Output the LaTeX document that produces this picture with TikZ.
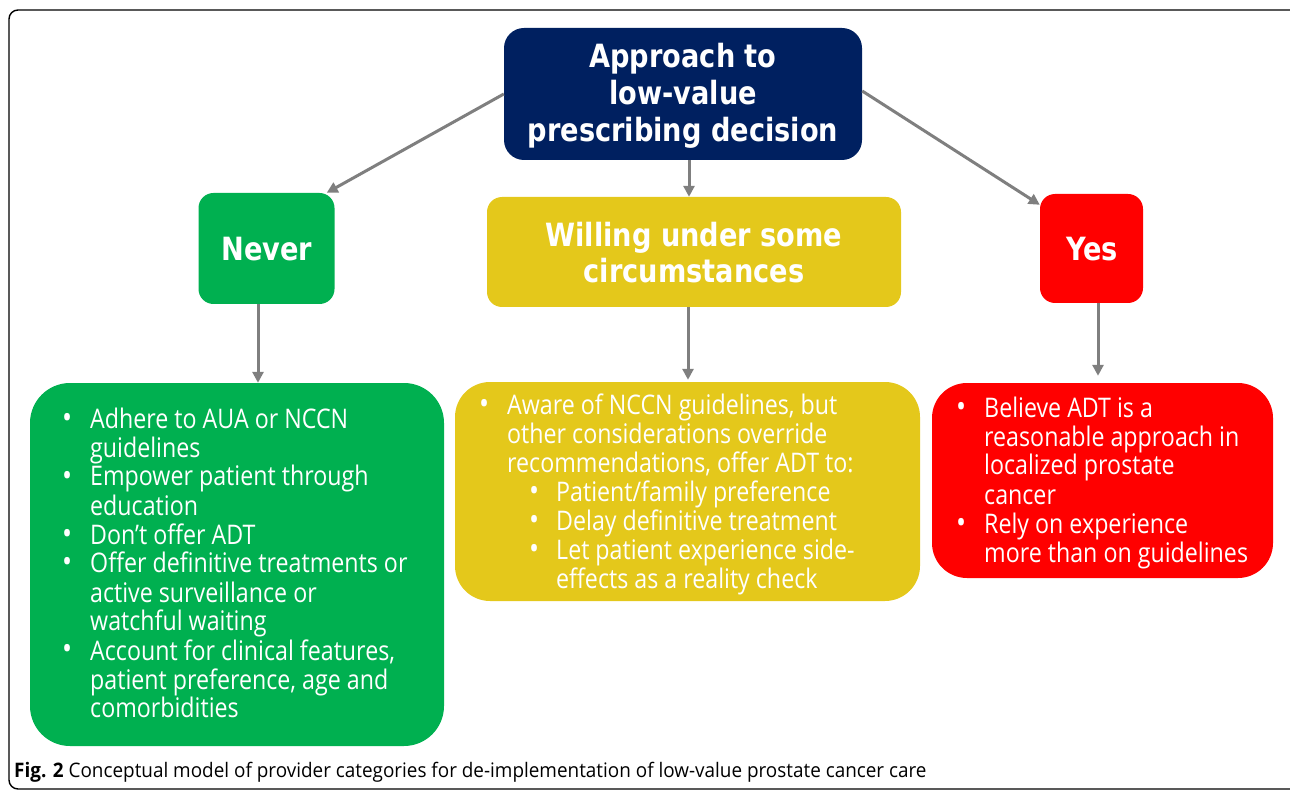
\documentclass[tikz,border=0pt]{standalone}
\usepackage{fontspec}
\setmainfont{Open Sans}
\newfontfamily\bodyfont{Open Sans}[FakeStretch=0.86]
\newfontfamily\titlefont{DejaVu Sans}[FakeStretch=0.85]
\newfontfamily\capfont{Open Sans}[FakeStretch=0.945]
\usetikzlibrary{arrows.meta,calc}
\definecolor{navy}{HTML}{002060}
\definecolor{grn}{HTML}{00B050}
\definecolor{ylw}{HTML}{E4C81B}
\definecolor{rd}{HTML}{FF0000}
\definecolor{arr}{HTML}{7F7F7F}
\newcommand{\bul}{\scalebox{1.15}{\textbullet}}
\newcommand{\bl}[1]{\hbox{\makebox[28pt][l]{\bul}#1}}
\newcommand{\cl}[1]{\hbox{\hspace{28pt}#1}}
\newcommand{\sbl}[1]{\hbox{\hspace{50pt}\makebox[27pt][l]{\bul}#1}}
\newcommand{\scl}[1]{\hbox{\hspace{77pt}#1}}
\newcommand{\lines}[1]{\vtop{\baselineskip=29pt\lineskiplimit=-20pt #1}}
\tikzset{
  headbox/.style={draw=none, fill=navy, rounded corners=20pt},
  catbox/.style={draw=none, rounded corners=15pt},
  listbox/.style={draw=none, rounded corners=#1},
  headtext/.style={anchor=base, text=white, align=center, inner sep=0pt,
     font=\titlefont\bfseries\fontsize{32}{37}\selectfont},
  listtext/.style={anchor=base west, inner sep=0pt, text=white, font=\bodyfont\fontsize{27}{29}\selectfont},
  conn/.style={draw=arr, line width=3pt, -{Triangle[length=11pt,width=11pt]}},
}
\begin{document}
\begin{tikzpicture}[x=1pt,y=-1pt]
\useasboundingbox (0,0) rectangle (1290,791);
\begin{scope}
\clip (0,0) rectangle (1290,791);
\draw[line width=1.4pt, rounded corners=9pt] (9,10) rectangle (1310,789);
\end{scope}
% top
\node[headbox, minimum width=358pt, minimum height=132pt] (top) at (683,94) {};
\node[headtext] (toptxt) at (683,142) {Approach to\\low-value\\prescribing decision};
% categories
\node[catbox, fill=grn, minimum width=136pt, minimum height=111pt] (never) at (266.5,248.5) {};
\node[headtext] (nevertxt) at (267,261) {Never};
\node[catbox, fill=ylw, minimum width=414pt, minimum height=110pt] (will) at (694,252) {};
\node[headtext, font=\titlefont\bfseries\fontsize{32}{36}\selectfont] (willtxt) at (694,283) {Willing under some\\circumstances};
\node[catbox, fill=rd, minimum width=103pt, minimum height=109pt] (yes) at (1091.5,248.5) {};
\node[headtext] (yestxt) at (1092,261) {Yes};
% lists
\node[listbox=40pt, fill=grn, minimum width=414pt, minimum height=363pt] (glist) at (237,564.5) {};
\node[listbox=35pt, fill=ylw, minimum width=465pt, minimum height=219pt] (ylist) at (687.5,491.5) {};
\node[listbox=35pt, fill=rd, minimum width=341pt, minimum height=195pt] (rlist) at (1102.5,480.5) {};
\node[listtext] (gtxt) at (62,428) {\lines{%
\bl{Adhere to AUA or NCCN}\cl{guidelines}%
\bl{Empower patient through}\cl{education}%
\bl{Don’t offer ADT}%
\bl{Offer definitive treatments or}\cl{active surveillance or}\cl{watchful waiting}%
\bl{Account for clinical features,}\cl{patient preference, age and}\cl{comorbidities}}};
\node[listtext] (ytxt) at (479,414) {\lines{%
\bl{Aware of NCCN guidelines, but}\cl{other considerations override}\cl{recommendations, offer ADT to:}%
\sbl{Patient/family preference}\sbl{Delay definitive treatment}%
\sbl{Let patient experience side-}\scl{effects as a reality check}}};
\node[listtext] (rtxt) at (956,417) {\lines{%
\bl{Believe ADT is a}\cl{reasonable approach in}\cl{localized prostate}\cl{cancer}%
\bl{Rely on experience}\cl{more than on guidelines}}};
% connectors
\draw[conn] (top.west) -- ($(never.north east)+(-8,0)$);
\draw[conn] ([xshift=6pt]top.south) -- ([xshift=-5pt]will.north);
\draw[conn] ([yshift=3pt]top.east) -- ($(yes.north west)+(0,11)$);
\draw[conn] ([xshift=-8.5pt]never.south) -- ([xshift=21pt]glist.north);
\draw[conn] ([xshift=-6pt]will.south) -- ($([xshift=0.5pt]ylist.north)+(0,-2)$);
\draw[conn] ([xshift=6.5pt]yes.south) -- ($([xshift=-4.5pt]rlist.north)+(0,-7)$);
% caption
\node[anchor=base west, inner sep=0pt, font=\capfont\fontsize{20}{24}\selectfont] (cap) at (14,777) {\textbf{Fig. 2} Conceptual model of provider categories for de-implementation of low-value prostate cancer care};
\end{tikzpicture}
\end{document}
